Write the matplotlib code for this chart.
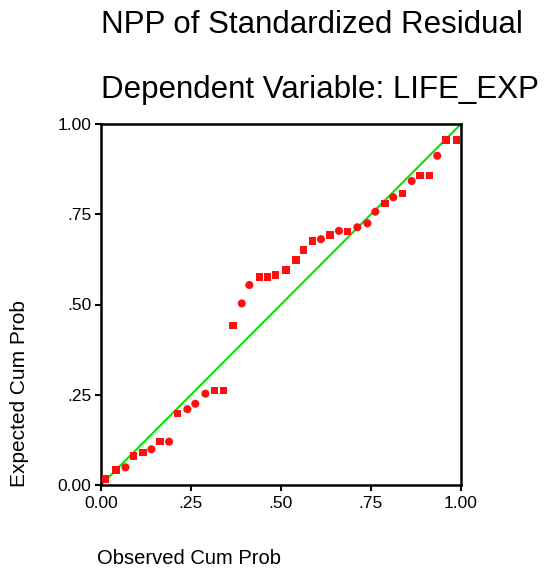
import matplotlib.pyplot as plt
import numpy as np

plt.rcParams["font.family"] = ["Liberation Sans", "DejaVu Sans"]

# Observed / expected cumulative probabilities
observed = [0.013, 0.042, 0.068, 0.090, 0.116, 0.140, 0.164, 0.189, 0.212, 0.240,
            0.262, 0.290, 0.315, 0.340, 0.366, 0.391, 0.412, 0.440, 0.462, 0.485,
            0.514, 0.541, 0.562, 0.588, 0.611, 0.636, 0.661, 0.685, 0.712, 0.740,
            0.762, 0.789, 0.812, 0.838, 0.863, 0.886, 0.912, 0.934, 0.958, 0.988]
expected = [0.016, 0.042, 0.049, 0.081, 0.090, 0.099, 0.120, 0.120, 0.198, 0.210,
            0.225, 0.253, 0.262, 0.262, 0.442, 0.503, 0.554, 0.577, 0.577, 0.582,
            0.596, 0.623, 0.651, 0.676, 0.681, 0.693, 0.704, 0.702, 0.714, 0.725,
            0.757, 0.780, 0.797, 0.808, 0.842, 0.857, 0.857, 0.912, 0.956, 0.956]
shapes = ["s", "s", "o", "s", "s", "o", "s", "o", "s", "o",
          "o", "o", "s", "s", "s", "o", "o", "s", "s", "s",
          "s", "s", "s", "s", "o", "s", "o", "s", "o", "o",
          "o", "s", "o", "s", "o", "s", "s", "o", "s", "s"]

ticks = [0.0, 0.25, 0.5, 0.75, 1.0]
tick_labels = ["0.00", ".25", ".50", ".75", "1.00"]

W, H = 547, 568
fig = plt.figure(figsize=(W / 100, H / 100), dpi=100)
ax = fig.add_axes([101 / W, 1 - 485 / H, 360 / W, 361 / H])

ax.plot([0, 1], [0, 1], color="#00e600", linewidth=1.5, zorder=2)

obs = np.array(observed)
exp_ = np.array(expected)
shp = np.array(shapes)
for m in ["o", "s"]:
    sel = shp == m
    ax.scatter(obs[sel], exp_[sel], marker=m, s=34 if m == "o" else 30,
               color="#ff1010", edgecolors="none", zorder=3, clip_on=False)

ax.set_xlim(0, 1)
ax.set_ylim(0, 1)
ax.set_xticks(ticks)
ax.set_xticklabels(tick_labels)
ax.set_yticks(ticks)
ax.set_yticklabels(tick_labels)
ax.tick_params(axis="both", direction="out", length=4, width=1.5,
               labelsize=12.5, color="black")
ax.tick_params(axis="x", pad=4)
ax.tick_params(axis="y", pad=3)
for sp in ax.spines.values():
    sp.set_linewidth(1.8)
    sp.set_color("black")

fig.text(101 / W, 1 - 33 / H, "NPP of Standardized Residual",
         fontsize=22.5, ha="left", va="baseline")
fig.text(101 / W, 1 - 98 / H, "Dependent Variable: LIFE_EXP",
         fontsize=22.5, ha="left", va="baseline")
fig.text(97 / W, 1 - 558 / H, "Observed Cum Prob",
         fontsize=14.5, ha="left", va="center")
fig.text(20 / W, 1 - 394 / H, "Expected Cum Prob",
         fontsize=15, ha="center", va="center", rotation=90)

fig.savefig("out.png", dpi=100)
